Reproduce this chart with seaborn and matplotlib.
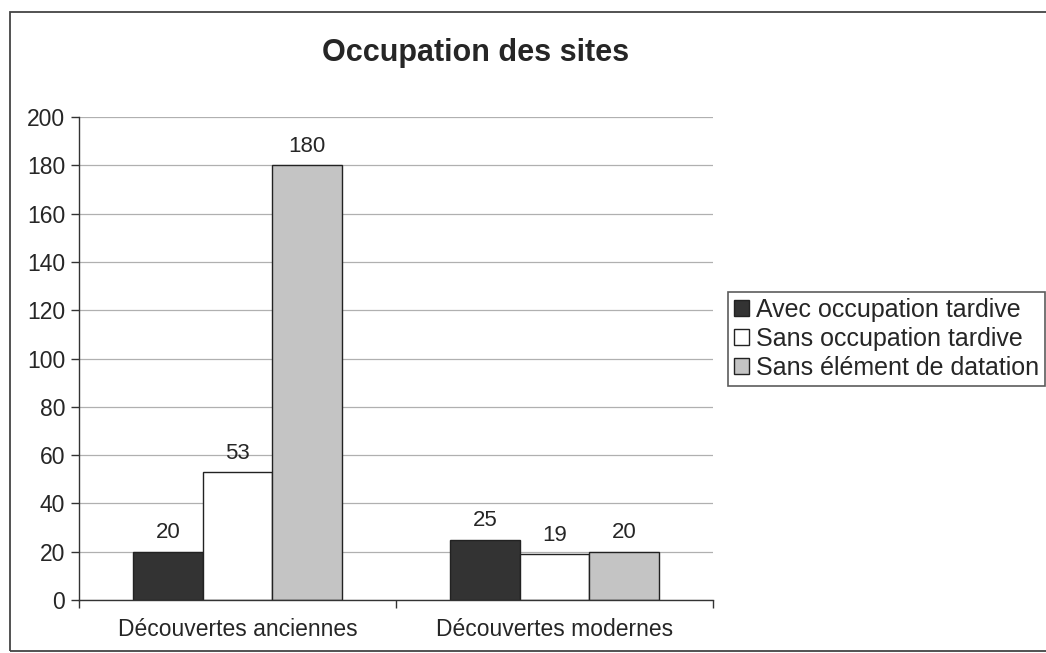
import matplotlib
matplotlib.use("Agg")
import matplotlib.pyplot as plt
from matplotlib.patches import Rectangle, Patch
import seaborn as sns
import pandas as pd

categories = ["Découvertes anciennes", "Découvertes modernes"]
series = ["Avec occupation tardive", "Sans occupation tardive", "Sans élément de datation"]
avec = [20, 25]
sans = [53, 19]
sans_datation = [180, 20]
colors = ["#333333", "#ffffff", "#c4c4c4"]

rows = []
for name, vals in zip(series, [avec, sans, sans_datation]):
    for cat, v in zip(categories, vals):
        rows.append({"cat": cat, "serie": name, "val": v})
df = pd.DataFrame(rows)

sns.set_style("white")
plt.rcParams["font.family"] = ["Liberation Sans", "DejaVu Sans"]

fig = plt.figure(figsize=(10.46, 6.53), dpi=100)
ax = fig.add_axes([79 / 1046, 53 / 653, 634 / 1046, 483 / 653])

sns.barplot(data=df, x="cat", y="val", hue="serie", palette=colors,
            width=0.66, edgecolor="#222222", linewidth=1.0, ax=ax,
            legend=False, saturation=1)

for cont in ax.containers:
    ax.bar_label(cont, padding=6, fontsize=16)

ax.set_ylim(0, 200)
ax.set_xlim(-0.5, 1.5)
ax.set_yticks(range(0, 201, 20))
ax.yaxis.grid(True, color="#b0b0b0", linewidth=0.9)
ax.set_axisbelow(True)
ax.set_xlabel("")
ax.set_ylabel("")
ax.tick_params(axis="y", labelsize=16.5, length=6, width=1, color="#333333", direction="out", left=True, pad=4)
ax.tick_params(axis="x", which="major", length=0, labelsize=16.5, pad=13)
ax.set_xticks([-0.5, 0.5, 1.5], minor=True)
ax.tick_params(axis="x", which="minor", length=6, width=1, color="#333333", bottom=True)
for s in ["top", "right"]:
    ax.spines[s].set_visible(False)
for s in ["left", "bottom"]:
    ax.spines[s].set_color("#333333")
    ax.spines[s].set_linewidth(1.0)

fig.text(476 / 1046, 1 - 53 / 653, "Occupation des sites", ha="center", va="center",
         fontsize=22, fontweight="bold")

handles = [Patch(facecolor=c, edgecolor="#222222", label=s) for c, s in zip(colors, series)]
leg = fig.legend(handles=handles, loc="center left", bbox_to_anchor=(728 / 1046, 1 - 339 / 653),
                 fontsize=18, frameon=True, fancybox=False, handlelength=0.6,
                 handleheight=0.6, handletextpad=0.25, borderpad=0.25, labelspacing=0.2,
                 borderaxespad=0)
leg.get_frame().set_edgecolor("#333333")
leg.get_frame().set_linewidth(1.2)

fig.patches.append(Rectangle((10 / 1046, 2 / 653), 1.1, 639 / 653, transform=fig.transFigure,
                             fill=False, edgecolor="#444444", linewidth=1.3))

fig.savefig("out.png", dpi=100)
